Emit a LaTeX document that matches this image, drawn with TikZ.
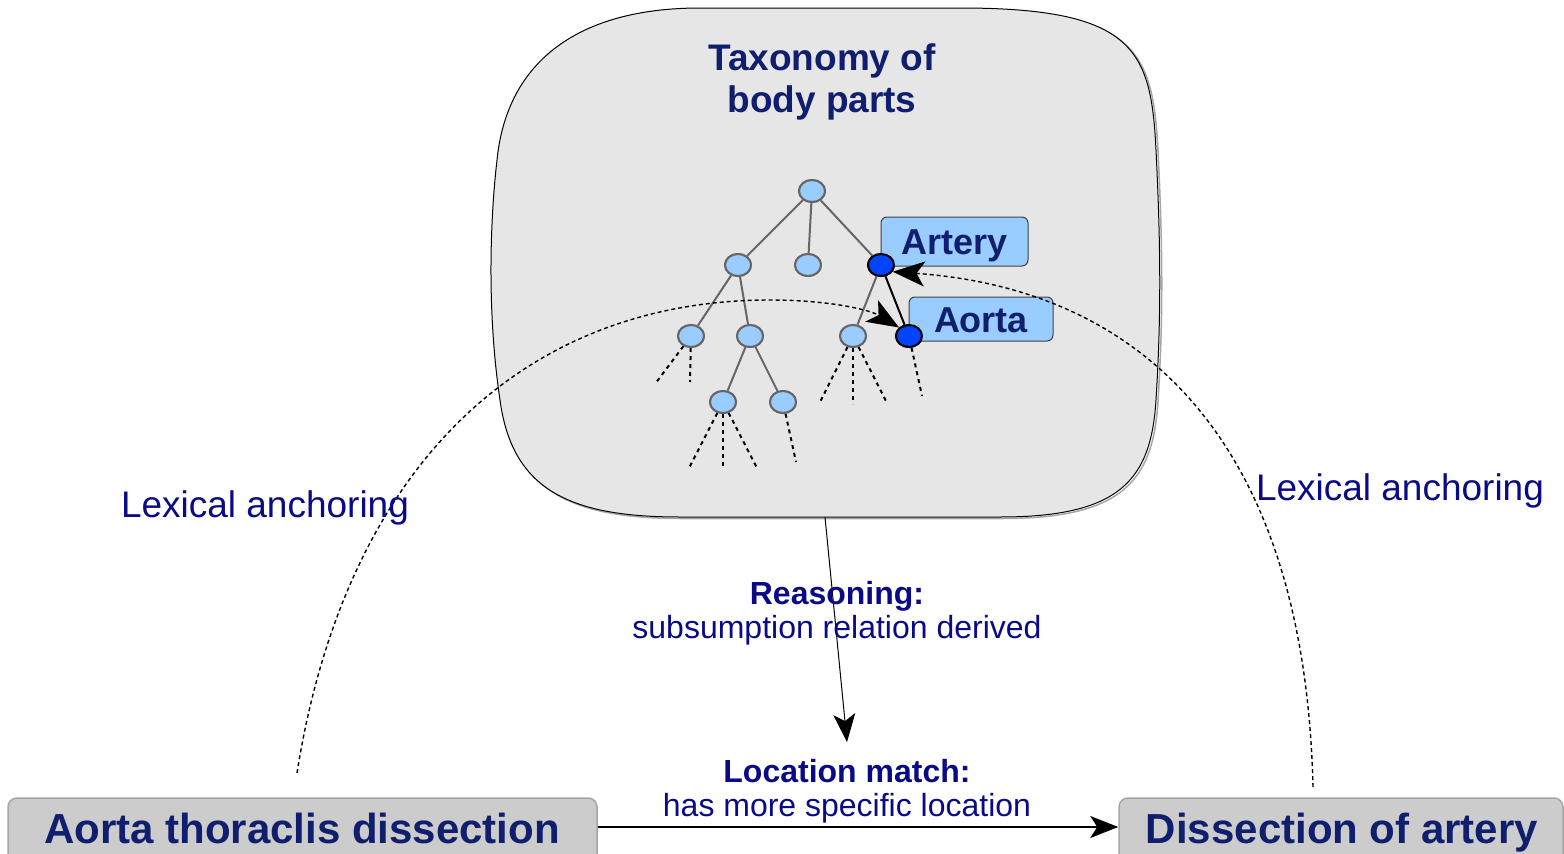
\documentclass[tikz,border=0pt]{standalone}
\usepackage{fontspec}
\setmainfont{Liberation Sans}
\usetikzlibrary{arrows.meta,shapes.geometric,calc}
\definecolor{boxtext}{RGB}{16,30,110}
\definecolor{plaintext}{RGB}{10,10,135}
\definecolor{lightnode}{HTML}{99CCFF}
\definecolor{darknode}{HTML}{0044FF}
\definecolor{panelfill}{HTML}{E6E6E6}
\definecolor{termfill}{HTML}{CCCCCC}
% outline of the taxonomy panel (rounded, slightly bulging sides)
\newcommand\panelOutline{(700,8) -- (960,8)
  .. controls (1135,8) and (1151,50) .. (1156,150)
  .. controls (1161,250) and (1161,320) .. (1156,400)
  .. controls (1151,480) and (1120,517) .. (1000,517)
  -- (680,517)
  .. controls (570,517) and (512,490) .. (500,400)
  .. controls (488,320) and (489,230) .. (497,160)
  .. controls (507,60) and (580,8) .. (700,8) -- cycle}
\begin{document}
\begin{tikzpicture}[x=1pt,y=-1pt,
  leaf/.style={ellipse, draw=gray!80!black, line width=2pt, fill=lightnode,
    minimum width=26pt, minimum height=22pt, inner sep=0pt},
  keynode/.style={ellipse, draw=black, line width=2pt, fill=darknode,
    minimum width=26pt, minimum height=22pt, inner sep=0pt},
  branch/.style={draw=gray!80!black, line width=2pt},
  stub/.style={draw=black, line width=2pt, dash pattern=on 4pt off 4pt},
  tag/.style={rectangle, draw=black!75, fill=lightnode, rounded corners=6pt,
    line width=1pt, font=\fontsize{36}{40}\selectfont\bfseries, text=boxtext,
    inner sep=0pt, text height=26pt, text depth=0pt},
  term/.style={rectangle, draw=gray!70, fill=termfill, rounded corners=9pt,
    line width=1.5pt, inner sep=0pt},
  termtext/.style={text=boxtext, font=\fontsize{42}{48}\selectfont\bfseries,
    anchor=base, inner sep=0pt},
  anchorline/.style={draw=black, line width=1.4pt, dash pattern=on 4pt off 3pt},
  bigtip/.style={-{Stealth[length=28pt,width=22pt,inset=7pt]}},
  curvetip/.style={-{Stealth[length=32pt,width=25pt,inset=8pt]}},
  plain/.style={text=plaintext, align=center}]
\useasboundingbox (0,0) rectangle (1564,854);
\clip (0,0) rectangle (1564,854);

% panel holding the taxonomy, with a faint shadow edge
\draw[gray!70, line width=1.5pt, shift={(2,1.5)}] \panelOutline;
\draw[black, line width=1pt, fill=panelfill] \panelOutline;
\coordinate (panelbottom) at (825,517);
\node[plain, text=boxtext, font=\fontsize{37}{42}\selectfont\bfseries] (title)
  at (822,82) {Taxonomy of\\body parts};

% tree nodes
\node[leaf] (root) at (812,191) {};
\node[leaf] (a) at (738,265) {};
\node[leaf] (b) at (808,265) {};
\node[keynode] (artery) at (881,265) {};
\node[leaf] (a1) at (691,336) {};
\node[leaf] (a2) at (750,336) {};
\node[leaf] (c1) at (853,336) {};
\node[keynode] (aorta) at (909,336) {};
\node[leaf] (a21) at (723,402) {};
\node[leaf] (a22) at (783,402) {};

% stub ends of unexpanded branches
\coordinate (s1) at (655,384);
\coordinate (s2) at (690,382);
\coordinate (s3) at (820,402);
\coordinate (s4) at (853,404);
\coordinate (s5) at (887,403);
\coordinate (s6) at (922,396);
\coordinate (s7) at (689,468);
\coordinate (s8) at (723,468);
\coordinate (s9) at (757,468);
\coordinate (s10) at (796,462);

% labels attached to the highlighted nodes
\node[tag, minimum width=147pt, minimum height=49pt] (arterytag) at (954.5,241.5) {Artery};
\node[tag, minimum width=144pt, minimum height=44pt] (aortatag) at (981,319) {Aorta};

% branches
\draw[branch] (root) -- (a);
\draw[branch] (root) -- (b);
\draw[branch] (root) -- (artery);
\draw[branch] (a) -- (a1);
\draw[branch] (a) -- (a2);
\draw[branch] (a2) -- (a21);
\draw[branch] (a2) -- (a22);
\draw[branch] (artery) -- (c1);
\draw[draw=black, line width=2pt] (artery) -- (aorta);

\draw[stub] (a1) -- (s1);
\draw[stub] (a1) -- (s2);
\draw[stub] (c1) -- (s3);
\draw[stub] (c1) -- (s4);
\draw[stub] (c1) -- (s5);
\draw[stub] (aorta) -- (s6);
\draw[stub] (a21) -- (s7);
\draw[stub] (a21) -- (s8);
\draw[stub] (a21) -- (s9);
\draw[stub] (a22) -- (s10);

% redraw nodes on top of their edges
\node[leaf] at (root) {};
\node[leaf] at (a) {};
\node[leaf] at (b) {};
\node[keynode] at (artery) {};
\node[leaf] at (a1) {};
\node[leaf] at (a2) {};
\node[leaf] at (c1) {};
\node[keynode] at (aorta) {};
\node[leaf] at (a21) {};
\node[leaf] at (a22) {};

% terms
\node[term, minimum width=589pt, minimum height=66pt] (left) at (302.5,831) {};
\node[termtext] (lefttext) at (302,843) {Aorta thoraclis dissection};
\node[term, minimum width=444pt, minimum height=66pt] (right) at (1341,831) {};
\node[termtext] (righttext) at (1342,843) {Dissection of artery};

% lexical anchoring links
\coordinate (lexL) at (297,773);
\coordinate (lexR) at (1313,787);
\draw[anchorline, curvetip] (lexL) .. controls (345,470) and (520,300) .. (770,300)
  .. controls (830,300) and (870,310) .. (aorta.north west);
\draw[anchorline, curvetip] (lexR) .. controls (1305,450) and (1150,290) .. (artery.-30);
\node[plain, font=\fontsize{37}{42}\selectfont] (lexLtext) at (265,508) {Lexical anchoring};
\node[plain, font=\fontsize{37}{42}\selectfont] (lexRtext) at (1400,491) {Lexical anchoring};

% reasoning step
\coordinate (reasonTip) at (847,742);
\draw[line width=1pt, bigtip] (panelbottom) -- (reasonTip);
\node[plain, font=\fontsize{32}{34}\selectfont] (reason) at (837,613)
  {\textbf{Reasoning:}\\subsumption relation derived};
\node[plain, font=\fontsize{32}{34}\selectfont] (match) at (847,791)
  {\textbf{Location match:}\\has more specific location};

% location match arrow
\draw[line width=2pt, bigtip] (left.east |- 0,827) -- (right.west |- 0,827);
\end{tikzpicture}
\end{document}
